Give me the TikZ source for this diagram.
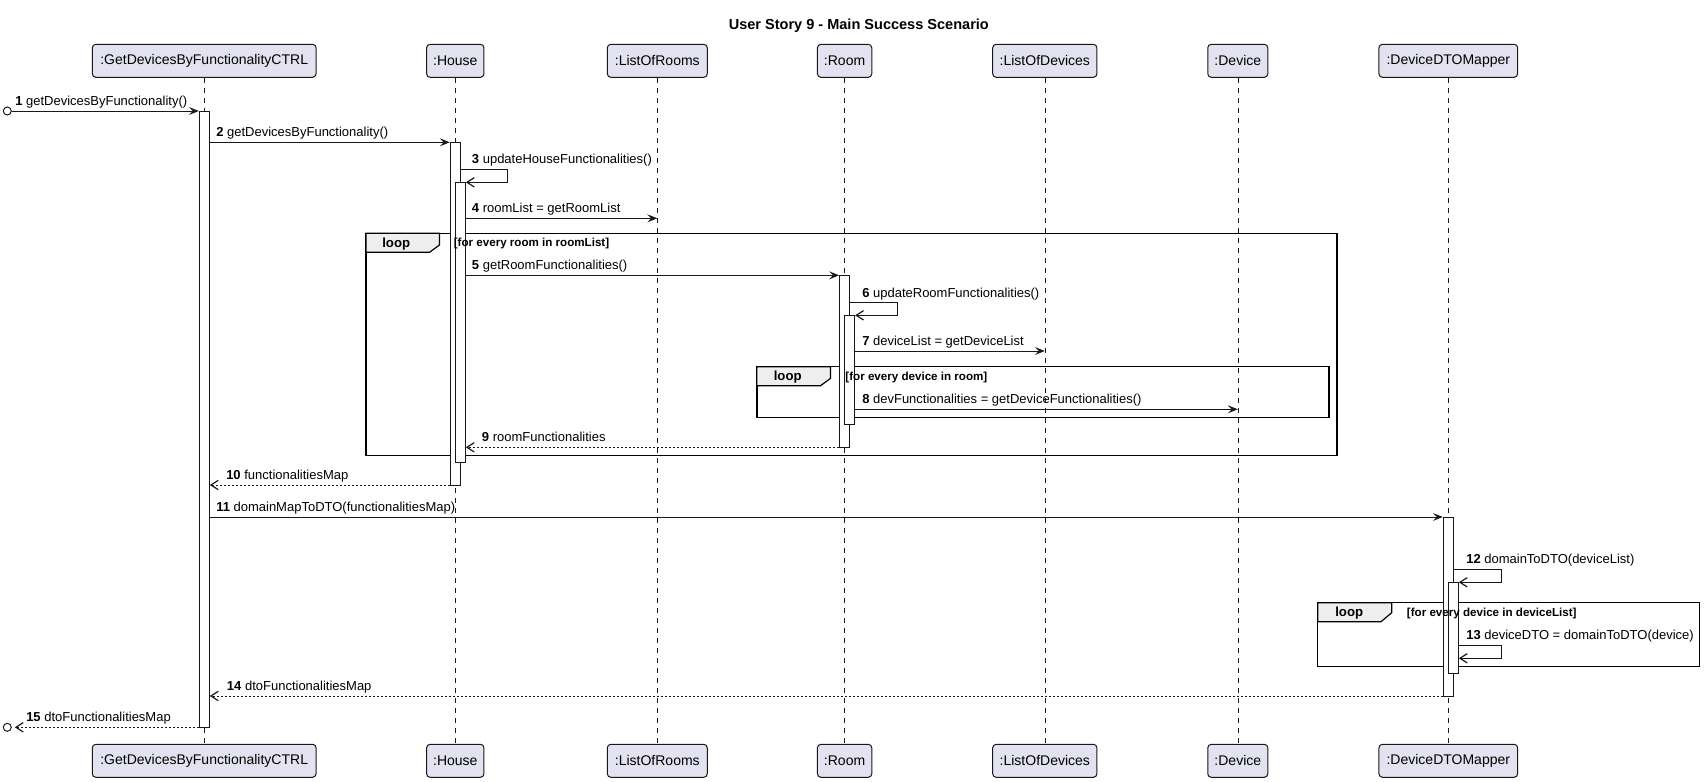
\documentclass[tikz,border=0pt]{standalone}
\usepackage{fontspec}
\setmainfont{Liberation Sans}
\usetikzlibrary{arrows.meta,fit}
\definecolor{partfill}{HTML}{E2E2F0}
\definecolor{partline}{HTML}{181818}
\definecolor{tabfill}{HTML}{EEEEEE}

\begin{document}
\begin{tikzpicture}[x=0.75pt,y=-0.75pt,
  participant/.style={draw=partline, fill=partfill, rounded corners=2.6pt,
    line width=0.75pt, minimum height=24.75pt, inner xsep=0pt, inner ysep=0pt,
    font=\fontsize{10.5pt}{12pt}\selectfont},
  lifeline/.style={draw=partline, line width=0.4pt, dash pattern=on 3.75pt off 3.75pt},
  activation/.style={draw=partline, fill=white, line width=0.75pt, inner sep=0pt},
  call/.style={draw=partline, line width=0.75pt,
    -{Stealth[length=7.5pt,width=6pt,inset=3pt]}},
  ret/.style={draw=partline, line width=0.75pt, dash pattern=on 1.5pt off 1.5pt,
    -{Straight Barb[length=5.5pt,width=7pt,line width=0.9pt]}},
  selfcall/.style={draw=partline, line width=0.75pt,
    -{Straight Barb[length=5.5pt,width=7pt,line width=0.9pt]}},
  endpoint/.style={circle, draw=partline, line width=0.75pt, minimum size=6pt, inner sep=0pt},
  msg/.style={anchor=base west, inner sep=0pt, font=\fontsize{9.75pt}{11pt}\selectfont},
  frame/.style={draw=black, line width=1.15pt},
  looptab/.style={draw=black, fill=tabfill, line width=0.9pt},
  loopword/.style={anchor=base west, inner sep=0pt, font=\bfseries\fontsize{9.9pt}{11pt}\selectfont},
  guard/.style={anchor=base west, inner sep=0pt, font=\bfseries\fontsize{8.7pt}{10pt}\selectfont},
]
\useasboundingbox (0,0) rectangle (1704,782);

% title
\node[anchor=base, inner sep=0pt, font=\bfseries\fontsize{10.9pt}{12pt}\selectfont]
  (title) at (858.8,29.8) {User Story 9 - Main Success Scenario};

% participants, top and bottom
\foreach \nm/\x/\w/\txt in {ctrl/204.2/223.7/{:GetDevicesByFunctionalityCTRL},
    house/455.3/57.3/{:House}, rooms/657.3/99.9/{:ListOfRooms},
    room/844.6/54.3/{:Room}, devs/1044.8/104.2/{:ListOfDevices},
    dev/1237.8/60/{:Device}, map/1448.3/138.7/{:DeviceDTOMapper}} {
  \node[participant, minimum width=\w*0.75pt] (\nm T) at (\x,60.8) {\txt};
  \node[participant, minimum width=\w*0.75pt] (\nm B) at (\x,760.8) {\txt};
  \draw[lifeline] (\nm T.south) -- (\nm B.north);
}

% loop frames
\draw[frame] (366,233.3) rectangle (1337,455.7);
\draw[looptab] (366,233.3) -- (439.5,233.3) -- (439.5,245) -- (429.5,252.3) -- (366,252.3) -- cycle;
\draw[frame] (756.8,366.7) rectangle (1329.2,417.3);
\draw[looptab] (756.8,366.7) -- (830.5,366.7) -- (830.5,378.4) -- (820.5,385.7) -- (756.8,385.7) -- cycle;
\draw[frame] (1317.7,602.7) rectangle (1699.3,666.7);
\draw[looptab] (1317.7,602.7) -- (1391.7,602.7) -- (1391.7,612.7) -- (1381,621.7) -- (1317.7,621.7) -- cycle;

% activation bars
\node[activation, fit={(199.3,111) (209.3,727.3)}] (aCtrl) {};
\node[activation, fit={(450.3,142.3) (460.3,485)}] (aHouse) {};
\node[activation, fit={(455.3,182.3) (465.3,462)}] (aHouse2) {};
\node[activation, fit={(839.6,275.3) (849.6,447.3)}] (aRoom) {};
\node[activation, fit={(844.6,315.3) (854.6,424.3)}] (aRoom2) {};
\node[activation, fit={(1443.3,517.3) (1453.3,696)}] (aMap) {};
\node[activation, fit={(1448.3,582.3) (1458.3,673.3)}] (aMap2) {};

% outside endpoints
\node[endpoint] (src) at (7.3,111) {};
\node[endpoint] (sink) at (7.3,727.3) {};

% messages
\draw[call] (src.east) -- (aCtrl.west |- src);
\draw[call] (aCtrl.east |- 0,142.3) -- (aHouse.west |- 0,142.3);
\draw[selfcall] (aHouse.east |- 0,169.3) -- ++(47,0) -- ++(0,13) -- (aHouse2.east |- 0,182.3);
\draw[call] (aHouse2.east |- 0,218.3) -- (roomsT |- 0,218.3);
\draw[call] (aHouse2.east |- 0,275.3) -- (aRoom.west |- 0,275.3);
\draw[selfcall] (aRoom.east |- 0,302.7) -- ++(47,0) -- ++(0,12.6) -- (aRoom2.east |- 0,315.3);
\draw[call] (aRoom2.east |- 0,351) -- (devsT |- 0,351);
\draw[call] (aRoom2.east |- 0,409.3) -- (devT |- 0,409.3);
\draw[ret] (aRoom.west |- 0,447.3) -- (aHouse2.east |- 0,447.3);
\draw[ret] (aHouse.west |- 0,485) -- (aCtrl.east |- 0,485);
\draw[call] (aCtrl.east |- 0,517) -- (aMap.west |- 0,517);
\draw[selfcall] (aMap.east |- 0,569.3) -- ++(47.4,0) -- ++(0,13) -- (aMap2.east |- 0,582.3);
\draw[selfcall] (aMap2.east |- 0,645.3) -- ++(42.4,0) -- ++(0,13) -- (aMap2.east |- 0,658.3);
\draw[ret] (aMap.west |- 0,696) -- (aCtrl.east |- 0,696);
\draw[ret] (aCtrl.west |- sink) -- ([xshift=2.25pt]sink.east);

% message labels
\node[msg] (m1)  at (15,105.5)   {\textbf{1} getDevicesByFunctionality()};
\node[msg] (m2)  at (216,136.8)  {\textbf{2} getDevicesByFunctionality()};
\node[msg] (m3)  at (471.7,163.8) {\textbf{3} updateHouseFunctionalities()};
\node[msg] (m4)  at (471.7,212.8) {\textbf{4} roomList = getRoomList};
\node[msg] (m5)  at (471.7,269.8) {\textbf{5} getRoomFunctionalities()};
\node[msg] (m6)  at (862,297.2)  {\textbf{6} updateRoomFunctionalities()};
\node[msg] (m7)  at (862,345.5)  {\textbf{7} deviceList = getDeviceList};
\node[msg] (m8)  at (862,403.8)  {\textbf{8} devFunctionalities = getDeviceFunctionalities()};
\node[msg] (m9)  at (481.7,441.8) {\textbf{9} roomFunctionalities};
\node[msg] (m10) at (226,479.5)  {\textbf{10} functionalitiesMap};
\node[msg] (m11) at (216,511.5)  {\textbf{11} domainMapToDTO(functionalitiesMap)};
\node[msg] (m12) at (1466,563.8) {\textbf{12} domainToDTO(deviceList)};
\node[msg] (m13) at (1466,639.8) {\textbf{13} deviceDTO = domainToDTO(device)};
\node[msg] (m14) at (226.7,690.5) {\textbf{14} dtoFunctionalitiesMap};
\node[msg] (m15) at (26,721.8)   {\textbf{15} dtoFunctionalitiesMap};

% loop labels and guards
\node[loopword] (l1) at (382,247.3) {loop};
\node[guard] (g1) at (453.6,246.8) {[for every room in roomList]};
\node[loopword] (l2) at (773.5,380.7) {loop};
\node[guard] (g2) at (845.2,380.2) {[for every device in room]};
\node[loopword] (l3) at (1335,616.7) {loop};
\node[guard] (g3) at (1406.7,616.2) {[for every device in deviceList]};
\end{tikzpicture}
\end{document}
